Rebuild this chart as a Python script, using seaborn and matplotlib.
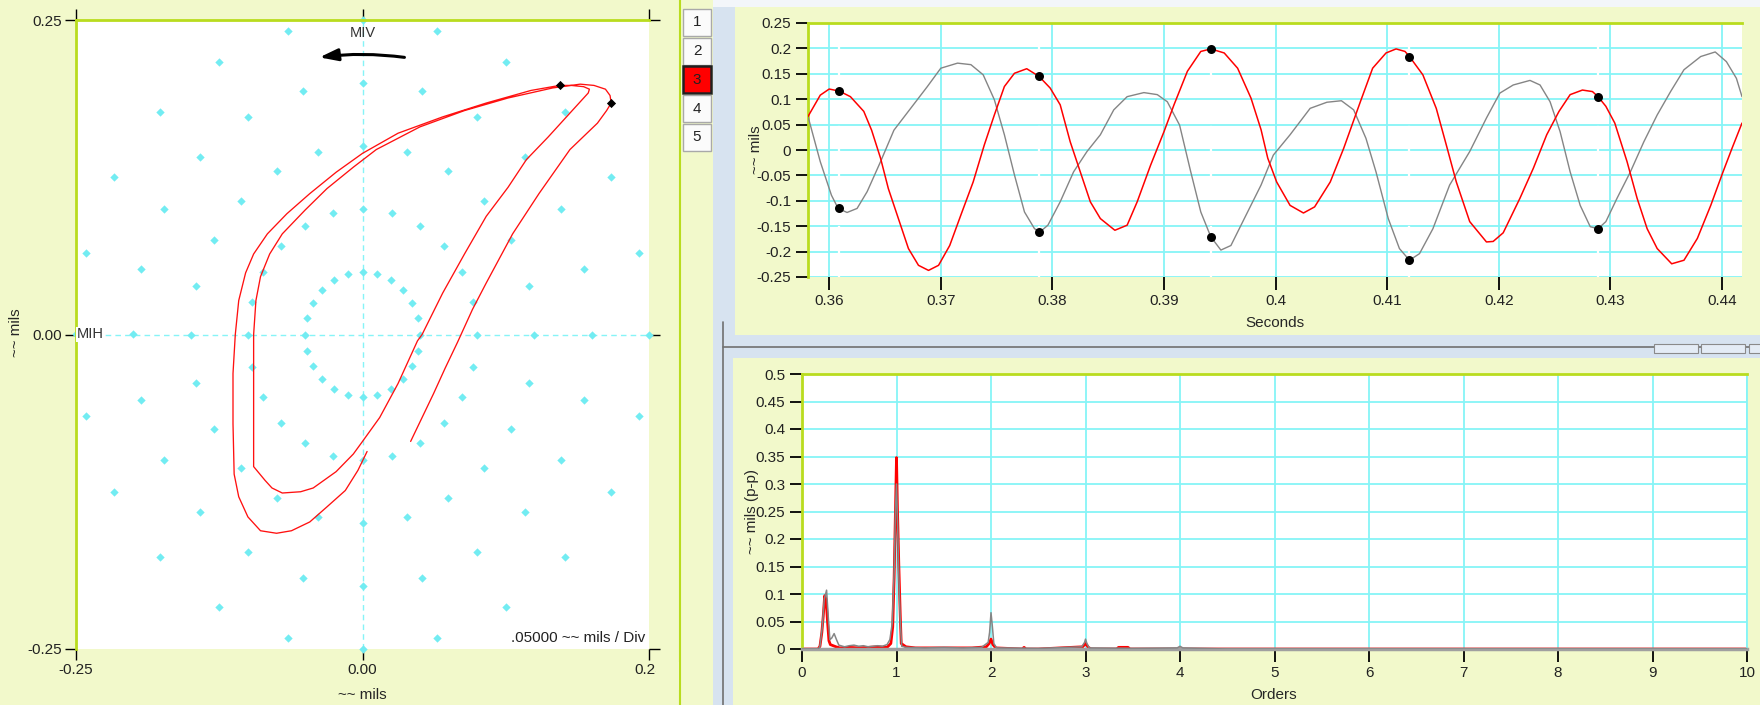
import numpy as np
import pandas as pd
import matplotlib
matplotlib.use('Agg')
import matplotlib.pyplot as plt
import seaborn as sns
from matplotlib.patches import Rectangle, FancyArrowPatch
from matplotlib.lines import Line2D

# ---- orbit (x, y in mils), traced counter-clockwise ----
orbit_x = [0.042, 0.052, 0.062, 0.072, 0.083, 0.096, 0.108, 0.131, 0.154, 0.181, 0.205, 0.213, 0.217,
           0.216, 0.212, 0.202, 0.190, 0.166, 0.127, 0.089, 0.050, 0.012, -0.008, -0.031, -0.050,
           -0.070, -0.081, -0.089, -0.093, -0.095, -0.095, -0.095, -0.095, -0.085, -0.079, -0.070,
           -0.054, -0.043, -0.023, -0.008, 0.000, 0.015, 0.031, 0.048, 0.052, 0.070, 0.089, 0.108,
           0.127, 0.143, 0.162, 0.178, 0.189, 0.197, 0.198, 0.193, 0.182, 0.172, 0.147, 0.108, 0.070,
           0.031, 0.000, -0.023, -0.046, -0.066, -0.083, -0.095, -0.102, -0.108, -0.111, -0.113,
           -0.113, -0.112, -0.108, -0.100, -0.089, -0.075, -0.062, -0.046, -0.031, -0.015, -0.004, 0.004]
orbit_y = [-0.085, -0.066, -0.047, -0.027, -0.006, 0.020, 0.041, 0.080, 0.112, 0.147, 0.168, 0.178, 0.184,
           0.190, 0.195, 0.198, 0.199, 0.196, 0.188, 0.178, 0.165, 0.147, 0.133, 0.116, 0.099,
           0.080, 0.064, 0.046, 0.027, 0.000, -0.031, -0.071, -0.105, -0.116, -0.122, -0.126,
           -0.125, -0.122, -0.109, -0.095, -0.085, -0.066, -0.039, -0.005, 0.000, 0.033, 0.064, 0.094,
           0.117, 0.139, 0.157, 0.173, 0.184, 0.192, 0.195, 0.197, 0.198, 0.198, 0.194, 0.184, 0.173,
           0.160, 0.144, 0.129, 0.112, 0.096, 0.080, 0.064, 0.049, 0.027, 0.000, -0.031,
           -0.071, -0.111, -0.129, -0.145, -0.156, -0.158, -0.156, -0.149, -0.137, -0.124, -0.108, -0.093]
keyphasor_x = [0.172, 0.217]
keyphasor_y = [0.198, 0.184]
ring_radii = [0.05, 0.10, 0.15, 0.20, 0.25]
orbit_ticks = [-0.25, 0.0, 0.25]

# ---- time waveforms ----
red_t = [0.3581, 0.3592, 0.3600, 0.3609, 0.3619, 0.3631, 0.3638, 0.3646, 0.3653, 0.3662, 0.3671, 0.3680,
         0.3689, 0.3698, 0.3708, 0.3718, 0.3729, 0.3739, 0.3748, 0.3757, 0.3766, 0.3777, 0.3788, 0.3798,
         0.3807, 0.3816, 0.3825, 0.3834, 0.3843, 0.3856, 0.3867, 0.3876, 0.3888, 0.3900, 0.3909, 0.3921,
         0.3933, 0.3942, 0.3954, 0.3966, 0.3978, 0.3987, 0.3993, 0.4001, 0.4013, 0.4025, 0.4035, 0.4049,
         0.4061, 0.4076, 0.4087, 0.4099, 0.4108, 0.4116, 0.4120, 0.4132, 0.4144, 0.4153, 0.4162, 0.4174,
         0.4189, 0.4195, 0.4204, 0.4219, 0.4231, 0.4243, 0.4254, 0.4264, 0.4275, 0.4284, 0.4289, 0.4296,
         0.4304, 0.4315, 0.4324, 0.4333, 0.4342, 0.4355, 0.4366, 0.4378, 0.4390, 0.4401, 0.4409, 0.4418]
red_v = [0.066, 0.108, 0.120, 0.116, 0.105, 0.076, 0.039, -0.016, -0.076, -0.135, -0.194, -0.227,
         -0.237, -0.227, -0.188, -0.128, -0.063, 0.010, 0.069, 0.125, 0.151, 0.160, 0.145, 0.122,
         0.089, 0.016, -0.043, -0.102, -0.135, -0.158, -0.148, -0.102, -0.030, 0.036, 0.089, 0.155,
         0.194, 0.199, 0.191, 0.161, 0.102, 0.040, -0.016, -0.063, -0.109, -0.124, -0.112, -0.063,
         0.003, 0.095, 0.161, 0.191, 0.199, 0.194, 0.184, 0.148, 0.082, 0.010, -0.063, -0.141,
         -0.181, -0.180, -0.163, -0.095, -0.036, 0.030, 0.076, 0.109, 0.118, 0.115, 0.105, 0.086,
         0.053, -0.023, -0.095, -0.155, -0.194, -0.224, -0.217, -0.174, -0.109, -0.043, 0.003, 0.053]
gray_t = [0.3581, 0.3592, 0.3602, 0.3608, 0.3616, 0.3625, 0.3634, 0.3646, 0.3658, 0.3673, 0.3688, 0.3700,
          0.3715, 0.3727, 0.3738, 0.3748, 0.3757, 0.3766, 0.3775, 0.3784, 0.3789, 0.3796, 0.3807, 0.3819,
          0.3831, 0.3843, 0.3855, 0.3867, 0.3882, 0.3894, 0.3903, 0.3914, 0.3924, 0.3933, 0.3942, 0.3951,
          0.3960, 0.3972, 0.3987, 0.3998, 0.4013, 0.4031, 0.4046, 0.4059, 0.4070, 0.4081, 0.4090, 0.4101,
          0.4111, 0.4120, 0.4129, 0.4141, 0.4156, 0.4174, 0.4189, 0.4201, 0.4213, 0.4228, 0.4237, 0.4246,
          0.4255, 0.4264, 0.4273, 0.4282, 0.4289, 0.4296, 0.4306, 0.4318, 0.4330, 0.4342, 0.4354, 0.4366,
          0.4381, 0.4394, 0.4404, 0.4413, 0.4418]
gray_v = [0.066, -0.023, -0.089, -0.115, -0.123, -0.115, -0.082, -0.023, 0.039, 0.082, 0.125, 0.161,
          0.171, 0.168, 0.148, 0.099, 0.030, -0.049, -0.122, -0.155, -0.161, -0.148, -0.102, -0.043,
          -0.003, 0.030, 0.079, 0.105, 0.113, 0.109, 0.095, 0.049, -0.043, -0.122, -0.171, -0.197,
          -0.188, -0.135, -0.069, -0.010, 0.030, 0.082, 0.094, 0.097, 0.079, 0.023, -0.043, -0.135,
          -0.194, -0.217, -0.204, -0.155, -0.069, -0.003, 0.063, 0.112, 0.128, 0.137, 0.128, 0.095,
          0.036, -0.043, -0.109, -0.151, -0.155, -0.141, -0.095, -0.043, 0.016, 0.069, 0.115, 0.158,
          0.184, 0.193, 0.174, 0.141, 0.105]
mark_t = [0.3609, 0.3788, 0.3942, 0.4120, 0.4289]
mark_red = [0.116, 0.145, 0.199, 0.184, 0.105]
mark_gray = [-0.115, -0.161, -0.171, -0.217, -0.155]
wave_xticks = [0.36, 0.37, 0.38, 0.39, 0.40, 0.41, 0.42, 0.43, 0.44]
wave_yticks = [-0.25, -0.2, -0.15, -0.1, -0.05, 0, 0.05, 0.1, 0.15, 0.2, 0.25]

# ---- order spectrum ----
spec_red_o = [0, 0.17, 0.19, 0.21, 0.225, 0.24, 0.255, 0.27, 0.285, 0.30, 0.33, 0.36, 0.40, 0.5, 0.6, 0.7,
              0.8, 0.9, 0.94, 0.96, 0.975, 0.99, 1.0, 1.01, 1.025, 1.04, 1.05, 1.1, 1.2, 1.4, 1.6, 1.8,
              1.95, 1.98, 2.0, 2.02, 2.05, 2.33, 2.35, 2.37, 2.5, 2.97, 3.0, 3.03, 3.06, 3.33, 3.35, 3.45,
              3.47, 4.0, 10]
spec_red_a = [0, 0, 0.005, 0.03, 0.06, 0.097, 0.09, 0.05, 0.015, 0.008, 0.006, 0.004, 0.002, 0.003, 0.002,
              0.003, 0.004, 0.003, 0.01, 0.04, 0.13, 0.26, 0.348, 0.255, 0.15, 0.06, 0.01, 0.004, 0.002,
              0.002, 0.002, 0.002, 0.004, 0.01, 0.018, 0.008, 0.002, 0.0, 0.003, 0.0, 0, 0.004, 0.01,
              0.003, 0.0, 0.0, 0.003, 0.003, 0.0, 0.0, 0]
spec_gray_o = [0, 0.175, 0.19, 0.215, 0.235, 0.26, 0.28, 0.295, 0.315, 0.34, 0.365, 0.39, 0.45, 0.5, 0.55,
               0.6, 0.65, 0.7, 0.75, 0.8, 0.85, 0.9, 0.93, 0.955, 0.975, 0.99, 1.0, 1.01, 1.025, 1.04,
               1.055, 1.1, 1.3, 1.5, 1.7, 1.9, 1.97, 1.985, 2.0, 2.015, 2.03, 2.06, 2.5, 2.96, 2.99, 3.0,
               3.015, 3.04, 3.5, 3.97, 4.0, 4.03, 4.5, 10]
spec_gray_a = [0, 0, 0.005, 0.04, 0.09, 0.107, 0.053, 0.017, 0.02, 0.028, 0.017, 0.007, 0.004, 0.006, 0.007,
               0.005, 0.006, 0.004, 0.005, 0.006, 0.005, 0.008, 0.017, 0.047, 0.14, 0.26, 0.30, 0.24, 0.13,
               0.05, 0.005, 0.003, 0.002, 0.003, 0.002, 0.003, 0.012, 0.03, 0.066, 0.04, 0.01, 0.002, 0.001,
               0.004, 0.012, 0.018, 0.01, 0.002, 0.001, 0.002, 0.005, 0.002, 0, 0]
spec_xticks = [0, 1, 2, 3, 4, 5, 6, 7, 8, 9, 10]
spec_yticks = [0, 0.05, 0.1, 0.15, 0.2, 0.25, 0.3, 0.35, 0.4, 0.45, 0.5]

button_labels = ['1', '2', '3', '4', '5']
active_button = '3'

W, H = 1760, 705
YEL = '#f2f9cb'
GRN = '#b9dc1e'
CYAN = '#86f4f7'
DOT = '#72ecf2'


def box(x0, y0, x1, y1):
    return [x0 / W, 1 - y1 / H, (x1 - x0) / W, (y1 - y0) / H]


def pt(x, y):
    return x / W, 1 - y / H


sns.set_theme(style='white')
plt.rcParams['font.family'] = ['Liberation Sans', 'DejaVu Sans']
plt.rcParams['font.size'] = 11

fig = plt.figure(figsize=(W / 100, H / 100), dpi=100, facecolor='#d7e3f0')


def rect(x0, y0, x1, y1, z=-10, **kw):
    fig.add_artist(Rectangle(pt(x0, y1), (x1 - x0) / W, (y1 - y0) / H,
                             transform=fig.transFigure, zorder=z, **kw))


def fline(xs, ys, **kw):
    fig.add_artist(Line2D([x / W for x in xs], [1 - y / H for y in ys],
                          transform=fig.transFigure, zorder=-5, **kw))


# window background panels
rect(713, 0, 1760, 7, fc='#f3f6fa', ec='none')
rect(0, 0, 713, 705, fc=YEL, ec='none')
rect(735, 7, 1760, 335, fc=YEL, ec='none')
rect(733, 358, 1760, 705, fc=YEL, ec='none')
fline([680, 680], [0, 705], color=GRN, lw=1.5)
fline([723, 1760], [347, 347], color='#707070', lw=1.2)
fline([723, 723], [322, 705], color='#707070', lw=1.2)
for tx in (1654, 1701, 1749):
    rect(tx, 344, tx + 44, 353, z=-4, fc='#e4ecf5', ec='#8a8a8a', lw=0.8)

# buttons
for i, lab in enumerate(button_labels):
    y0 = 9 + i * 28.7
    if lab == active_button:
        rect(683, y0, 711, y0 + 27, z=-4, fc='#ff0000', ec='#202020', lw=1.8)
    else:
        rect(683, y0, 711, y0 + 27, z=-4, fc='#fbfbfb', ec='#a9a9a9', lw=1.0)
    fig.text(*pt(697, y0 + 13.5), lab, ha='center', va='center', fontsize=11, color='#222222')

# ---------------- orbit ----------------
ax = fig.add_axes(box(76, 20, 649, 649))
ax.set_facecolor('white')
ax.axhline(0, color=CYAN, lw=1, ls=(0, (4, 3)), zorder=1)
ax.axvline(0, color=CYAN, lw=1, ls=(0, (4, 3)), zorder=1)
ang = np.deg2rad(np.arange(0, 360, 15))
dots = pd.DataFrame({'x': np.concatenate([r * np.cos(ang) for r in ring_radii]),
                     'y': np.concatenate([r * np.sin(ang) for r in ring_radii])})
sns.scatterplot(data=dots, x='x', y='y', marker='D', s=18, color=DOT, linewidth=0,
                clip_on=False, zorder=2, ax=ax)
sns.lineplot(x=orbit_x, y=orbit_y, sort=False, estimator=None, color='#ff1010', lw=0.95, zorder=3, ax=ax)
sns.scatterplot(x=keyphasor_x, y=keyphasor_y, marker='D', s=22, color='black', linewidth=0, zorder=4, ax=ax)
ax.add_patch(FancyArrowPatch((0.039, 0.220), (-0.040, 0.220), connectionstyle='arc3,rad=0.07',
                             arrowstyle='-|>,head_length=0.55,head_width=0.18', mutation_scale=20,
                             color='black', lw=2.2, zorder=5))
ax.text(0, 0.240, 'MIV', ha='center', va='center', fontsize=10.5, color='#333333')
ax.text(-0.249, 0, 'MIH', ha='left', va='center', fontsize=10.5, color='#333333',
        bbox=dict(fc='white', ec='none', pad=0.5))
ax.text(0.247, -0.241, '.05000 ~~ mils / Div', ha='right', va='center', fontsize=11, color='#222222')
ax.set_xlim(-0.25, 0.25)
ax.set_ylim(-0.25, 0.25)
ax.set_xticks(orbit_ticks, [f'{v:.2f}' for v in orbit_ticks])
ax.set_yticks(orbit_ticks, [f'{v:.2f}' for v in orbit_ticks])
ax.tick_params(direction='out', length=8, width=1, color='black', top=True, right=True,
               bottom=True, left=True, labelsize=11, pad=2, labelcolor='#222222')
for s in ('right', 'bottom'):
    ax.spines[s].set_visible(False)
for s in ('top', 'left'):
    ax.spines[s].set_color(GRN)
    ax.spines[s].set_linewidth(2)
ax.set_xlabel('~~ mils', fontsize=11)
ax.set_ylabel('~~ mils', fontsize=11)
ax.xaxis.set_label_coords(*pt(362, 695), transform=fig.transFigure)
ax.yaxis.set_label_coords(*pt(16, 333), transform=fig.transFigure)
ax.xaxis.label.set_va('center')
ax.yaxis.label.set_va('center')
# the panel edge cuts the last tick label
rect(656, 662, 679, 690, z=10, fc=YEL, ec='none')

# ---------------- time waveform ----------------
aw = fig.add_axes(box(808, 23, 1742, 277))
aw.set_facecolor('white')
aw.grid(True, color=CYAN, lw=1.3)
aw.set_axisbelow(True)
for t in mark_t:
    aw.axvline(t, color='white', lw=1.6, ls=(0, (5, 4)), zorder=1)
sns.lineplot(x=gray_t, y=gray_v, sort=False, estimator=None, color='#858585', lw=1.0, zorder=3, ax=aw)
sns.lineplot(x=red_t, y=red_v, sort=False, estimator=None, color='#ff0000', lw=1.1, zorder=4, ax=aw)
sns.scatterplot(x=mark_t + mark_t, y=mark_red + mark_gray, color='black', s=42, linewidth=0, zorder=5, ax=aw)
aw.set_xlim(0.3581, 0.4418)
aw.set_ylim(-0.25, 0.25)
aw.set_xticks(wave_xticks, [f'{v:g}' for v in wave_xticks])
aw.set_yticks(wave_yticks, [f'{v:g}' for v in wave_yticks])
aw.tick_params(direction='out', length=9, width=1.3, color='black', bottom=True, left=True,
               labelsize=11, pad=3, labelcolor='#222222')
for s in ('right', 'bottom'):
    aw.spines[s].set_visible(False)
for s in ('top', 'left'):
    aw.spines[s].set_color(GRN)
    aw.spines[s].set_linewidth(2)
aw.set_xlabel('Seconds', fontsize=11)
aw.set_ylabel('~~ mils', fontsize=11)
aw.xaxis.set_label_coords(*pt(1275, 323), transform=fig.transFigure)
aw.yaxis.set_label_coords(*pt(756, 150), transform=fig.transFigure)
aw.xaxis.label.set_va('center')
aw.yaxis.label.set_va('center')

# ---------------- spectrum ----------------
asp = fig.add_axes(box(802, 374, 1747, 649))
asp.set_facecolor('white')
asp.grid(True, color=CYAN, lw=1.3)
asp.set_axisbelow(True)
sns.lineplot(x=spec_red_o, y=spec_red_a, sort=False, estimator=None, color='#ff0000', lw=2.0, zorder=2, ax=asp)
sns.lineplot(x=spec_gray_o, y=spec_gray_a, sort=False, estimator=None, color='#858585', lw=1.1, zorder=4, ax=asp)
asp.set_xlim(0, 10)
asp.set_ylim(0, 0.5)
asp.set_xticks(spec_xticks, [f'{v:g}' for v in spec_xticks])
asp.set_yticks(spec_yticks, [f'{v:g}' for v in spec_yticks])
asp.tick_params(direction='out', length=9, width=1.3, color='black', bottom=True, left=True,
                labelsize=11, pad=3, labelcolor='#222222')
asp.spines['right'].set_color(CYAN)
asp.spines['right'].set_linewidth(1.3)
asp.spines['bottom'].set_color('#a0a0a0')
asp.spines['bottom'].set_linewidth(2.5)
asp.spines['bottom'].set_zorder(3)
for s in ('top', 'left'):
    asp.spines[s].set_color(GRN)
    asp.spines[s].set_linewidth(2)
asp.set_xlabel('Orders', fontsize=11)
asp.set_ylabel('~~ mils (p-p)', fontsize=11)
asp.xaxis.set_label_coords(*pt(1274, 695), transform=fig.transFigure)
asp.yaxis.set_label_coords(*pt(752, 512), transform=fig.transFigure)
asp.xaxis.label.set_va('center')
asp.yaxis.label.set_va('center')

fig.savefig('out.png', dpi=100, facecolor=fig.get_facecolor())
